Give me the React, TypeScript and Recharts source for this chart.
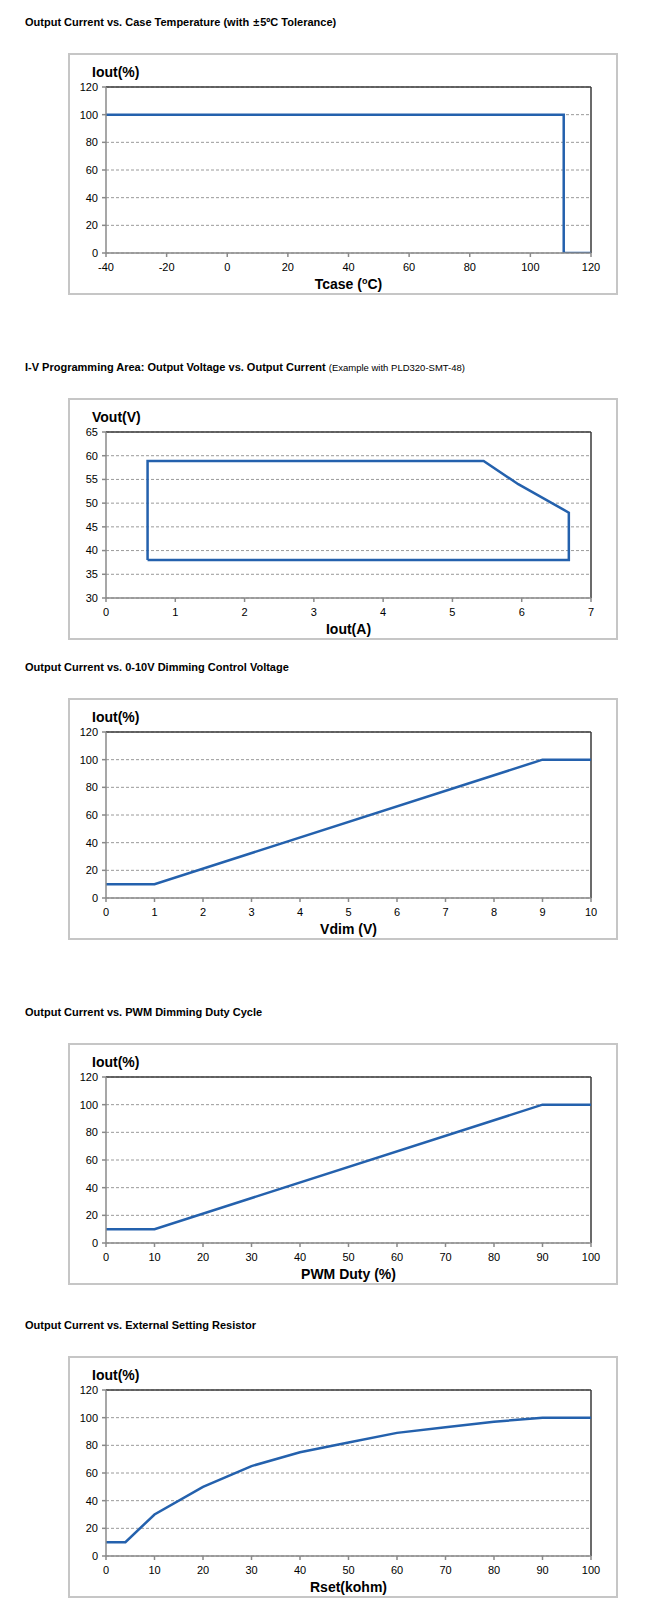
import type { ReactNode } from "react";
import { CartesianGrid, Label, Line, LineChart, ReferenceLine, XAxis, YAxis } from "recharts";

// Output current vs case temperature
const tcaseX = [-40, 111, 111, 120];
const tcaseY = [100, 100, 0, 0];
const tcaseTicks = [-40, -20, 0, 20, 40, 60, 80, 100, 120];

// I-V programming area (closed outline)
const ivCurrent = [0.6, 0.6, 5.45, 5.95, 6.68, 6.68, 0.6];
const ivVoltage = [38, 58.9, 58.9, 54, 48, 38, 38];
const ivCurrentTicks = [0, 1, 2, 3, 4, 5, 6, 7];
const ivVoltageTicks = [30, 35, 40, 45, 50, 55, 60, 65];

// 0-10V dimming
const vdimX = [0, 1, 9, 10];
const vdimY = [10, 10, 100, 100];
const vdimTicks = [0, 1, 2, 3, 4, 5, 6, 7, 8, 9, 10];

// PWM dimming
const pwmX = [0, 10, 90, 100];
const pwmY = [10, 10, 100, 100];

// external setting resistor
const rsetX = [0, 4, 10, 20, 30, 40, 50, 60, 70, 80, 90, 100];
const rsetY = [10, 10, 30, 50, 65, 75, 82, 89, 93, 97, 100, 100];

const percentTicks = [0, 20, 40, 60, 80, 100, 120];
const tenStepTicks = [0, 10, 20, 30, 40, 50, 60, 70, 80, 90, 100];

const FONT = "'Liberation Sans', Arial, sans-serif";
const NARROW = "'Liberation Sans Narrow', 'Liberation Sans', Arial, sans-serif";
const BLUE = "#2461ad";

const W = 550;
const H = 242;
const M = { top: 34, right: 27, bottom: 12, left: 8 };
const PLOT_LEFT = 38;
const PLOT_CX = PLOT_LEFT + (W - PLOT_LEFT - M.right) / 2;
const PLOT_BOTTOM = H - 42;

type CurveProps = {
  top: number;
  title: ReactNode;
  xs: number[];
  ys: number[];
  xTicks: number[];
  yTicks: number[];
  yLabel: string;
  xLabel: ReactNode;
};

function CurveBox({ top, title, xs, ys, xTicks, yTicks, yLabel, xLabel }: CurveProps) {
  const data = xs.map((x, i) => ({ x, y: ys[i] }));
  const xMin = xTicks[0];
  const xMax = xTicks[xTicks.length - 1];
  const yMin = yTicks[0];
  const yMax = yTicks[yTicks.length - 1];
  return (
    <>
      <div
        style={{
          position: "absolute",
          left: 25,
          top: top - 38,
          fontFamily: NARROW,
          fontWeight: "bold",
          fontSize: 11,
          lineHeight: "14px",
          whiteSpace: "nowrap",
          color: "#000",
        }}
      >
        {title}
      </div>
      <div
        style={{
          position: "absolute",
          left: 68,
          top,
          width: W,
          height: H,
          outline: "2px solid #c6c6c6",
          outlineOffset: -2,
        }}
      >
        <LineChart width={W} height={H} data={data} margin={M}>
          <CartesianGrid vertical={false} stroke="#9a9a9a" strokeDasharray="3 2" />
          <XAxis
            type="number"
            dataKey="x"
            domain={[xMin, xMax]}
            ticks={xTicks}
            allowDataOverflow
            height={30}
            stroke="#8a8a8a"
            strokeWidth={1.5}
            tickSize={4}
            tickMargin={6}
            tick={{ fontSize: 11, fill: "#000", fontFamily: FONT }}
          >
            <Label
              content={() => (
                <text
                  x={PLOT_CX}
                  y={PLOT_BOTTOM + 36}
                  textAnchor="middle"
                  fontFamily={FONT}
                  fontWeight="bold"
                  fontSize={14}
                  fill="#000"
                >
                  {xLabel}
                </text>
              )}
            />
          </XAxis>
          <YAxis
            type="number"
            domain={[yMin, yMax]}
            ticks={yTicks}
            allowDataOverflow
            width={30}
            stroke="#8a8a8a"
            strokeWidth={1.5}
            tickSize={4}
            tickMargin={4}
            tick={{ fontSize: 11, fill: "#000", fontFamily: FONT }}
          >
            <Label
              content={() => (
                <text
                  x={24}
                  y={M.top - 10}
                  fontFamily={FONT}
                  fontWeight="bold"
                  fontSize={14}
                  fill="#000"
                >
                  {yLabel}
                </text>
              )}
            />
          </YAxis>
          <ReferenceLine y={yMax} stroke="#3a3a3a" strokeWidth={1.5} />
          <ReferenceLine x={xMax} stroke="#3a3a3a" strokeWidth={1.5} />
          <Line
            type="linear"
            dataKey="y"
            stroke={BLUE}
            strokeWidth={2.5}
            dot={false}
            activeDot={false}
            isAnimationActive={false}
          />
        </LineChart>
      </div>
    </>
  );
}

function Degrees({ name }: { name: string }) {
  return (
    <>
      <tspan>{name} (</tspan>
      <tspan dy={-5} fontSize={9}>
        o
      </tspan>
      <tspan dy={5}>C)</tspan>
    </>
  );
}

export default function App() {
  return (
    <div
      style={{
        position: "absolute",
        left: 0,
        top: 0,
        width: 650,
        height: 1611,
        background: "#fff",
      }}
    >
      <CurveBox
        top={53}
        title={
          <>
            Output Current vs. Case Temperature (with <span style={{ margin: "0 1px" }}>±</span>5ºC
            Tolerance)
          </>
        }
        xs={tcaseX}
        ys={tcaseY}
        xTicks={tcaseTicks}
        yTicks={percentTicks}
        yLabel="Iout(%)"
        xLabel={<Degrees name="Tcase" />}
      />
      <CurveBox
        top={398}
        title={
          <>
            I-V Programming Area: Output Voltage vs. Output Current{" "}
            <span style={{ fontFamily: FONT, fontWeight: "normal", fontSize: 9.5 }}>
              (Example with PLD320-SMT-48)
            </span>
          </>
        }
        xs={ivCurrent}
        ys={ivVoltage}
        xTicks={ivCurrentTicks}
        yTicks={ivVoltageTicks}
        yLabel="Vout(V)"
        xLabel="Iout(A)"
      />
      <CurveBox
        top={698}
        title="Output Current vs. 0-10V Dimming Control Voltage"
        xs={vdimX}
        ys={vdimY}
        xTicks={vdimTicks}
        yTicks={percentTicks}
        yLabel="Iout(%)"
        xLabel="Vdim (V)"
      />
      <CurveBox
        top={1043}
        title="Output Current vs. PWM Dimming Duty Cycle"
        xs={pwmX}
        ys={pwmY}
        xTicks={tenStepTicks}
        yTicks={percentTicks}
        yLabel="Iout(%)"
        xLabel="PWM Duty (%)"
      />
      <CurveBox
        top={1356}
        title="Output Current vs. External Setting Resistor"
        xs={rsetX}
        ys={rsetY}
        xTicks={tenStepTicks}
        yTicks={percentTicks}
        yLabel="Iout(%)"
        xLabel="Rset(kohm)"
      />
    </div>
  );
}
